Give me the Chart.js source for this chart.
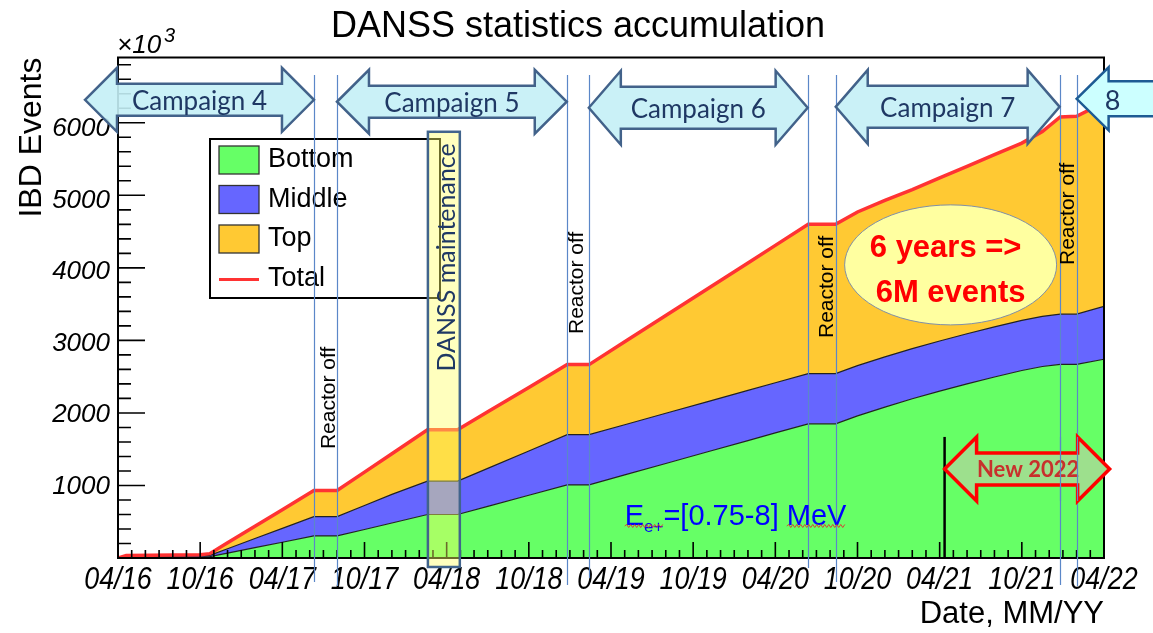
<!DOCTYPE html>
<html><head><meta charset="utf-8">
<script src="https://cdn.jsdelivr.net/npm/chart.js@4.4.1/dist/chart.umd.min.js"></script>
<style>html,body{margin:0;padding:0;background:#fff;}canvas{display:block;}</style>
</head><body>
<canvas id="c" width="1153" height="633"></canvas>
<script>
// ---- data (months since April 2016, events in units of 10^3) ----
const months = [0,0.6,6.0,6.7,8,10,12,14.3,16.0,18,20,22.6,24.8,27,30,32.8,34.4,37,40,43,46,48,50.4,52.4,54,56,58,60,62,64,66,67.5,68.8,70.0,72];
const bottomEvents = [0,10,14,18,67,142,217,304,304,393,482,600,600,712,865,1008,1008,1145,1303,1461,1618,1724,1850,1850,1960,2080,2195,2300,2400,2495,2585,2640,2670,2670,2740];
const middleEvents = [0,12,14,18,60,126,191,266,266,331,395,460,460,524,611,692,692,692,692,692,692,692,692,692,692,692,692,692,692,692,692,692,692,692,730];
const topEvents = [0,13,17,24,82,170,258,360,360,460,561,708,708,779,876,966,966,1143,1348,1552,1758,1894,2058,2058,2118,2158,2193,2248,2308,2373,2443,2548,2718,2728,2810];
const totalEvents = [0,35,45,60,209,438,666,930,930,1184,1438,1768,1768,2015,2352,2666,2666,2980,3343,3705,4068,4310,4600,4600,4770,4930,5080,5240,5400,5560,5720,5880,6080,6090,6280];
const xTickLabels = ['04/16','10/16','04/17','10/17','04/18','10/18','04/19','10/19','04/20','10/20','04/21','10/21','04/22'];
const yTickLabels = ['1000','2000','3000','4000','5000','6000'];

// annotation anchors in data units (month, events)
const periodLines = [14.31,15.99,32.77,34.38,50.36,52.41,68.76,70.0];
const campaigns = [
  {text:'Campaign 4', from:-2.41, to:14.31, y:6317},
  {text:'Campaign 5', from:15.99, to:32.77, y:6290},
  {text:'Campaign 6', from:34.38, to:50.36, y:6207},
  {text:'Campaign 7', from:52.41, to:68.76, y:6220},
  {text:'8', from:70.0, to:null, y:6330}
];
const reactorOff = [{m:15.4,v:2207},{m:33.5,v:3793},{m:51.8,v:3738},{m:69.35,v:4745}];
const maintenance = {from:22.63, to:24.96, top:5876, bottom:-124, textM:24.0, textV:4145};
const newMarker = {m:60.36, top:1669};
const new2022 = {from:60.36, to:72.41, y:1228};
const ellipse = {m:60.8, v:4041};
const energyLabel = {m:37.0, v:455};

const FONT = '"Liberation Sans", Arial, Helvetica, sans-serif';
const CAL = 'Lato, "Open Sans", sans-serif';

const toXY = arr => months.map((m,i)=>({x:m, y:arr[i]}));

function arrowPath(ctx, x1, x2, yc, hl, hh, sh, leftHead, rightHead){
  ctx.beginPath();
  if (leftHead){
    ctx.moveTo(x1, yc);
    ctx.lineTo(x1+hl, yc-hh);
    ctx.lineTo(x1+hl, yc-sh);
  } else {
    ctx.moveTo(x1, yc-sh);
  }
  if (rightHead){
    ctx.lineTo(x2-hl, yc-sh);
    ctx.lineTo(x2-hl, yc-hh);
    ctx.lineTo(x2, yc);
    ctx.lineTo(x2-hl, yc+hh);
    ctx.lineTo(x2-hl, yc+sh);
  } else {
    ctx.lineTo(x2, yc-sh);
    ctx.lineTo(x2, yc+sh);
  }
  if (leftHead){
    ctx.lineTo(x1+hl, yc+sh);
    ctx.lineTo(x1+hl, yc+hh);
  } else {
    ctx.lineTo(x1, yc+sh);
  }
  ctx.closePath();
}

function squiggle(ctx, x1, x2, y){
  ctx.beginPath();
  let up = true;
  ctx.moveTo(x1, y);
  for (let x = x1+2; x <= x2; x += 2){ ctx.lineTo(x, up ? y-1.5 : y+1.5); up = !up; }
  ctx.stroke();
}

const annot = {
  id:'annot',
  afterDatasetsDraw(chart){
    const {ctx, chartArea:a, scales:{x, y}} = chart;
    const X = v => x.getPixelForValue(v), Y = v => y.getPixelForValue(v);
    ctx.save();

    // axis ticks (ROOT style, inside)
    ctx.strokeStyle = '#000'; ctx.lineWidth = 1.6;
    ctx.beginPath();
    for (let v = 0; v <= y.max; v += 200){
      const py = Y(v); const len = (v % 1000 === 0) ? 27 : 13;
      ctx.moveTo(a.left, py); ctx.lineTo(a.left+len, py);
    }
    for (let m = 0; m <= x.max; m++){
      const px = X(m); const len = (m % 6 === 0) ? 16 : 8;
      ctx.moveTo(px, a.bottom); ctx.lineTo(px, a.bottom-len);
    }
    ctx.stroke();
    ctx.lineWidth = 2;
    ctx.strokeRect(a.left, a.top, a.right-a.left, a.bottom-a.top);

    // x tick labels (condensed italic, as in the ROOT canvas)
    ctx.fillStyle = '#000'; ctx.textAlign = 'center'; ctx.textBaseline = 'alphabetic';
    ctx.font = `italic 32px ${FONT}`;
    x.ticks.forEach(t => {
      const lab = xTickLabels[Math.round(t.value/6)];
      if (!lab) return;
      ctx.save(); ctx.translate(X(t.value), a.bottom + 31); ctx.scale(0.84, 1);
      ctx.fillText(lab, 0, 0); ctx.restore();
    });

    // legend
    const lx = 210, ly = 139, lw = 230, lh = 159;
    ctx.fillStyle = '#fff'; ctx.fillRect(lx, ly, lw, lh);
    ctx.lineWidth = 2; ctx.strokeStyle = '#000'; ctx.strokeRect(lx, ly, lw, lh);
    const order = ['Bottom','Middle','Top','Total'];
    ctx.font = `27px ${FONT}`; ctx.textBaseline = 'middle'; ctx.textAlign = 'left';
    order.forEach((name, i) => {
      const ds = chart.data.datasets.find(d => d.label === name);
      const cy = 160 + i*39.5;
      if (name === 'Total'){
        ctx.strokeStyle = ds.borderColor; ctx.lineWidth = 3;
        ctx.beginPath(); ctx.moveTo(219, cy+1); ctx.lineTo(259, cy+1); ctx.stroke();
      } else {
        ctx.fillStyle = ds.backgroundColor; ctx.fillRect(219, cy-14, 40, 28);
        ctx.strokeStyle = '#333'; ctx.lineWidth = 1.3; ctx.strokeRect(219, cy-14, 40, 28);
      }
      ctx.fillStyle = '#000'; ctx.fillText(name, 268, cy);
    });

    // black marker line
    ctx.strokeStyle = '#000'; ctx.lineWidth = 2.5;
    ctx.beginPath(); ctx.moveTo(X(newMarker.m), Y(newMarker.top)); ctx.lineTo(X(newMarker.m), Y(0)); ctx.stroke();

    // DANSS maintenance box
    const mx1 = X(maintenance.from), mx2 = X(maintenance.to), my1 = Y(maintenance.top), my2 = Y(maintenance.bottom);
    ctx.fillStyle = 'rgba(255,255,100,0.42)'; ctx.fillRect(mx1, my1, mx2-mx1, my2-my1);
    ctx.strokeStyle = '#41648c'; ctx.lineWidth = 2.5; ctx.strokeRect(mx1, my1, mx2-mx1, my2-my1);
    ctx.save();
    ctx.translate(X(maintenance.textM), Y(maintenance.textV)); ctx.rotate(-Math.PI/2);
    ctx.font = `25px ${CAL}`; ctx.fillStyle = '#1f3864'; ctx.textAlign = 'center'; ctx.textBaseline = 'middle';
    ctx.fillText('DANSS maintenance', 0, 0);
    ctx.restore();

    // period lines
    const lineBottoms = [582,586,585,578,568,582,585,586];
    ctx.strokeStyle = '#5b87c8'; ctx.lineWidth = 1.2;
    periodLines.forEach((m, i) => {
      const px = Math.round(X(m)) + 0.5;
      ctx.beginPath(); ctx.moveTo(px, 75); ctx.lineTo(px, lineBottoms[i]); ctx.stroke();
    });

    // reactor off labels
    ctx.font = `21px ${FONT}`; ctx.fillStyle = '#000'; ctx.textAlign = 'center'; ctx.textBaseline = 'middle';
    reactorOff.forEach(r => {
      ctx.save(); ctx.translate(X(r.m), Y(r.v)); ctx.rotate(-Math.PI/2);
      ctx.fillText('Reactor off', 0, 0); ctx.restore();
    });

    // campaign arrows
    campaigns.forEach(c => {
      const yc = Y(c.y);
      const x1 = X(c.from);
      if (c.to === null){
        arrowPath(ctx, x1, 1170, yc, 32, 31.5, 17.5, true, false);
        ctx.fillStyle = '#ccffff'; ctx.fill();
        ctx.strokeStyle = '#1d5b94'; ctx.lineWidth = 2.5; ctx.stroke();
        ctx.font = `27px ${CAL}`; ctx.fillStyle = '#1f3864'; ctx.textAlign = 'center'; ctx.textBaseline = 'middle';
        ctx.fillText(c.text, x1 + 36, yc + 2);
      } else {
        const x2 = X(c.to);
        const big = c.text === 'Campaign 6' || c.text === 'Campaign 7';
        arrowPath(ctx, x1, x2, yc, 32, big ? 37 : 32, big ? 21 : 16, true, true);
        ctx.fillStyle = 'rgba(196,240,246,0.9)'; ctx.fill();
        ctx.strokeStyle = '#42628a'; ctx.lineWidth = 2.5; ctx.stroke();
        ctx.font = `26px ${CAL}`; ctx.fillStyle = '#1f3864'; ctx.textAlign = 'center'; ctx.textBaseline = 'middle';
        ctx.fillText(c.text, (x1+x2)/2, yc + 2);
      }
    });

    // ellipse
    const ex = X(ellipse.m), ey = Y(ellipse.v);
    ctx.beginPath(); ctx.ellipse(ex, ey, 106, 60, 0, 0, Math.PI*2);
    ctx.fillStyle = '#ffffa0'; ctx.fill();
    ctx.strokeStyle = '#8090a8'; ctx.lineWidth = 1; ctx.stroke();
    ctx.font = `bold 31px ${FONT}`; ctx.fillStyle = '#ff0000'; ctx.textAlign = 'center'; ctx.textBaseline = 'alphabetic';
    ctx.fillText('6 years =>', ex - 5, ey - 8);
    ctx.fillText('6M events', ex, ey + 37);

    // energy label
    const elx = X(energyLabel.m), ely = Y(energyLabel.v);
    ctx.fillStyle = '#0000ff'; ctx.textAlign = 'left'; ctx.textBaseline = 'alphabetic';
    ctx.font = `29px ${FONT}`; ctx.fillText('E', elx, ely);
    let cx = elx + ctx.measureText('E').width;
    ctx.font = `17px ${FONT}`; ctx.fillText('e+', cx, ely + 7);
    cx += ctx.measureText('e+').width;
    ctx.font = `29px ${FONT}`; ctx.fillText('=[0.75-8] MeV', cx, ely);
    const restW = ctx.measureText('=[0.75-8] MeV').width;
    const mevW = ctx.measureText('MeV').width;
    ctx.strokeStyle = '#e03030'; ctx.lineWidth = 0.9;
    squiggle(ctx, elx, cx, ely + 1);
    squiggle(ctx, cx + restW - mevW, cx + restW, ely + 1);

    // New 2022 arrow
    const nx1 = X(new2022.from), nx2 = X(new2022.to), ny = Y(new2022.y);
    arrowPath(ctx, nx1, nx2, ny, 32, 32, 16, true, true);
    ctx.fillStyle = '#9de08d'; ctx.fill();
    ctx.strokeStyle = '#ff0000'; ctx.lineWidth = 3.5; ctx.lineJoin = 'miter'; ctx.stroke();
    ctx.font = `bold 22px ${CAL}`; ctx.fillStyle = '#c8302c'; ctx.textAlign = 'center'; ctx.textBaseline = 'middle';
    ctx.fillText('New 2022', (nx1+nx2)/2 + 1, ny + 1);
    ctx.strokeStyle = '#5b87c8'; ctx.lineWidth = 1.2;
    [periodLines[6], periodLines[7]].forEach(m => {
      const px = Math.round(X(m)) + 0.5;
      ctx.beginPath(); ctx.moveTo(px, ny-32); ctx.lineTo(px, ny+32); ctx.stroke();
    });

    // title and exponent
    ctx.fillStyle = '#000'; ctx.textAlign = 'center'; ctx.textBaseline = 'alphabetic';
    ctx.font = `36px ${FONT}`; ctx.fillText('DANSS statistics accumulation', 578, 37);
    ctx.textAlign = 'left';
    ctx.font = `italic 26px ${FONT}`; ctx.fillText('\u00d710', 117, 53);
    ctx.font = `italic 20px ${FONT}`; ctx.fillText('3', 164, 42);

    ctx.restore();
  }
};

new Chart(document.getElementById('c'), {
  type:'line',
  data:{datasets:[
    {label:'Total', data:toXY(totalEvents), stack:'total', borderColor:'#ff3333', borderWidth:3.5, fill:false, pointRadius:0},
    {label:'Bottom', data:toXY(bottomEvents), stack:'det', backgroundColor:'#66ff66', borderColor:'#222', borderWidth:1.2, fill:'origin', pointRadius:0},
    {label:'Middle', data:toXY(middleEvents), stack:'det', backgroundColor:'#6666ff', borderColor:'#222', borderWidth:1.2, fill:'-1', pointRadius:0},
    {label:'Top', data:toXY(topEvents), stack:'det', backgroundColor:'#ffc933', borderColor:'rgba(0,0,0,0)', borderWidth:0, fill:'-1', pointRadius:0}
  ]},
  options:{
    responsive:false, animation:false, devicePixelRatio:1,
    layout:{padding:{top:57.5, right:49, bottom:0, left:0}},
    plugins:{legend:{display:false}, tooltip:{enabled:false}, title:{display:false}},
    elements:{line:{tension:0}, point:{radius:0}},
    scales:{
      x:{type:'linear', min:0, max:72,
         grid:{display:false, drawTicks:false}, border:{display:false},
         ticks:{display:false, stepSize:6, autoSkip:false, maxRotation:0,
                callback:v => xTickLabels[Math.round(v/6)] ?? ''},
         title:{display:true, text:'Date, MM/YY', align:'end', color:'#000', font:{family:FONT, size:31, lineHeight:1.2}, padding:0},
         afterFit(s){ s.height = 75; }},
      y:{stacked:true, min:0, max:6900,
         grid:{display:false, drawTicks:false}, border:{display:false},
         ticks:{stepSize:1000, padding:8, color:'#000', font:{family:FONT, size:26, style:'italic'},
                callback:v => yTickLabels[Math.round(v/1000)-1] ?? ''},
         title:{display:true, text:'IBD Events', align:'end', color:'#000', font:{family:FONT, size:32, lineHeight:1.2}, padding:{top:13, bottom:0}},
         afterFit(s){ s.width = 118; }}
    }
  },
  plugins:[annot]
});
</script>
</body></html>
